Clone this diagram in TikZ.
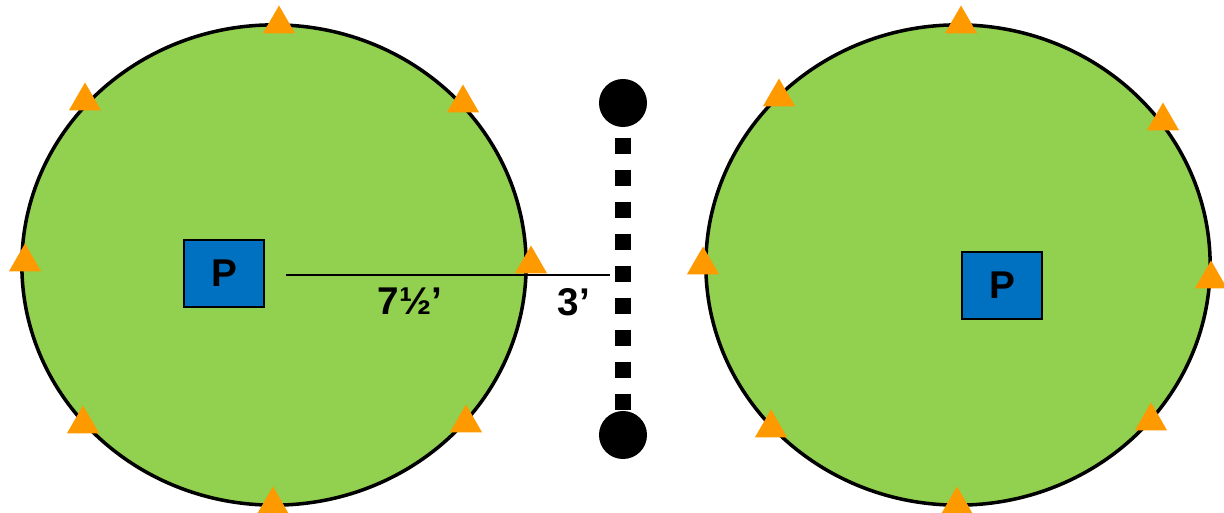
\documentclass[tikz,border=0pt]{standalone}
\usepackage{fontspec}
\setmainfont{Liberation Sans}
\usetikzlibrary{shapes.geometric}
\definecolor{turf}{HTML}{92D050}
\definecolor{conecol}{HTML}{FF9900}
\definecolor{boxcol}{HTML}{0070C0}

\begin{document}
\begin{tikzpicture}[x=0.01cm, y=-0.01cm,
  field/.style={ellipse, draw=black, line width=1pt, fill=turf, minimum width=5.04cm, minimum height=4.8cm, inner sep=0pt},
  cone/.style={regular polygon, regular polygon sides=3, fill=conecol, minimum size=0.37cm, inner sep=0pt},
  player/.style={draw=black, line width=0.6pt, fill=boxcol, minimum width=0.8cm, minimum height=0.67cm, inner sep=0pt, font=\fontsize{11}{13}\selectfont\bfseries},
  post/.style={circle, fill=black, minimum size=0.48cm, inner sep=0pt},
  dist/.style={font=\fontsize{11}{13}\selectfont\bfseries, inner sep=1pt}]
  \useasboundingbox (0,0) rectangle (1224,512);

  % two playing areas
  \node[field] (left) at (274,265) {};
  \node[field] (right) at (958,265) {};

  % cones round the edge
  \foreach \cx/\cy [count=\i] in {279/24, 85/101, 463/103, 25/262, 531/264, 83/424, 466/423, 273/505}
    \node[cone] (lc\i) at (\cx,\cy) {};
  \foreach \cx/\cy [count=\i] in {961/24, 779/97, 1163/121, 703/265, 1211/279, 771/428, 1151/421, 957/505}
    \node[cone] (rc\i) at (\cx,\cy) {};

  % players
  \node[player] (p1) at (224,273.5) {P};
  \node[player] (p2) at (1002,285.5) {P};

  % post with rope
  \node[post] (top) at (623,103) {};
  \node[post] (bot) at (623,435) {};
  \draw[line width=4.55pt, dash pattern=on 4.55pt off 4.55pt, dash phase=6.26pt] (top) -- (bot);

  % distances
  \coordinate (m1) at (286,275);
  \coordinate (m2) at (610,275);
  \draw[line width=0.6pt] (m1) -- (m2);
  \node[dist] (d1) at (410,301) {7½’};
  \node[dist] (d2) at (574,302) {3’};
\end{tikzpicture}
\end{document}
